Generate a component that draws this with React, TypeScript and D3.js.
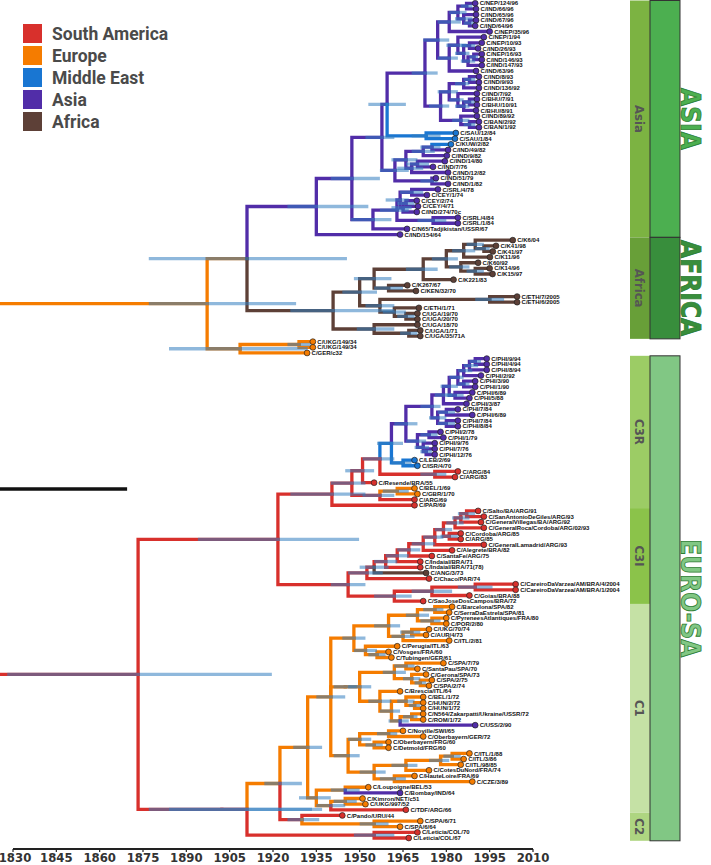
import React from 'react';
import * as d3 from 'd3';

// ---------------- data ----------------
const regionNames = ['South America', 'Europe', 'Middle East', 'Asia', 'Africa'];
const regionCodes = ['S', 'E', 'M', 'A', 'F'];
const regionColors = ['#d8302c', '#f57c00', '#1976d2', '#512da8', '#5d4037'];

const axisTicks = [1830, 1845, 1860, 1875, 1890, 1905, 1920, 1935, 1950, 1965, 1980, 1995, 2010];

// Newick-like clades: 'name'@year#region ; internal (...)@year#region~hpdLow~hpdHigh
const asiaClade = `(
 (
  (
   (
    (
     (
      ((('C/NEP/124/96'@1990#A,'C/IND/66/96'@1990.3#A)@1987#A~1985~1989,('C/IND/65/96'@1990.3#A,('C/IND/67/96'@1990.3#A,'C/IND/64/96'@1990#A)@1988#A~1986~1990)@1986#A~1983~1989)@1984#A~1981~1987,'C/NEP/35/96'@1995#A)@1981#A~1977~1985,
      (('C/NEP/1/94'@1993#A,(('C/NEP/10/93'@1992.3#A,'C/IND/26/93'@1991#A)@1988#A~1985~1990,(('C/NEP/16/93'@1992.3#A,'C/IND/146/93'@1992.3#A)@1989.5#A~1988~1991,'C/IND/147/93'@1992.3#A)@1987.5#A~1985~1990)@1986#A~1983~1988)@1984#A~1980~1987,'C/IND/63/96'@1990.3#A)@1981#A~1977~1984
     )@1977#A~1972~1981,
     (((('C/IND/8/93'@1991.3#A,'C/IND/9/93'@1991.3#A)@1988#A~1986~1990,'C/IND/136/92'@1991.3#A)@1986#A~1983~1988,('C/IND/7/92'@1990.6#A,(('C/BHU/7/91'@1990.6#A,'C/BHU/10/91'@1990.6#A)@1988#A~1986~1990,'C/BHU/8/91'@1990.3#A)@1986#A~1983~1988)@1984#A~1981~1986)@1981#A~1977~1984,('C/IND/89/92'@1990.6#A,('C/BAN/2/92'@1991.3#A,'C/BAN/1/92'@1991.3#A)@1988#A~1986~1990)@1985#A~1982~1988)@1978#A~1974~1981
    )@1972.6#A~1968~1977,
    ('C/SAU/12/84'@1983.3#M,'C/SAU/1/84'@1983#M)@1973#M~1968~1978
   )@1959.5#A~1953~1966,
   (((('C/KUW/2/82'@1981.6#M,'C/IND/49/82'@1980.6#A)@1975#A~1971~1978,'C/IND/9/82'@1980.2#A)@1972#A~1968~1976,(('C/IND/14/80'@1979.5#A,'C/IND/7/76'@1975.4#A)@1970#A~1966~1974,'C/IND/12/82'@1980.6#A)@1968#A~1963~1972)@1966#A~1961~1970,('C/IND/51/79'@1976.4#A,'C/IND/1/82'@1980.6#A)@1975#A~1971~1977)@1962.2#A~1957~1967
  )@1957.7#A~1952~1962,
  (((('C/SRL/4/78'@1977.1#A,'C/CEY/1/74'@1973.3#A)@1968#A~1964~1972,(('C/CEY/2/74'@1969.8#A,'C/CEY/4/71'@1970.2#A)@1966#A~1963~1969,'C/IND/274/70c'@1969.8#A)@1965#A~1961~1968)@1964#A~1959~1967,('C/SRL/4/84'@1984#A,'C/SRL/1/84'@1984#A)@1975.4#A~1970~1980)@1962.9#A~1957~1967,'C/N65/Tadjikistan/USSR/67'@1966.4#A)@1954.6#A~1947~1961
 )@1947.3#A~1940~1957,
 'C/IND/154/64'@1964#A
)@1935#A~1925~1953`;

const africaClade = `(
 (
  ((((('C/K6/04'@2003#F,('C/K41/98'@1997.2#F,'C/K41/97'@1996.1#F)@1993#F~1990~1995)@1990#F~1987~1993,'C/K11/96'@1995.1#F)@1986#F~1982~1990,('C/K60/92'@1991#F,('C/K14/96'@1995#F,'C/K15/97'@1996#F)@1990#F~1987~1993)@1985#F~1981~1988)@1980#F~1975~1984,'C/K221/83'@1982.5#F)@1972#F~1966~1977,('C/K267/67'@1966.5#F,'C/KEN/32/70'@1969.5#F)@1960#F~1955~1965)@1955#F~1948~1961,
  (('C/ETH/7/2005'@2004.5#F,'C/ETH/6/2005'@2004.5#F)@1995#F~1990~2000,('C/ETH/1/71'@1970.5#F,('C/UGA/19/70'@1970#F,'C/UGA/20/70'@1970#F)@1966#F~1963~1969)@1962#F~1958~1966)@1957#F~1952~1962
 )@1950#F~1944~1956,
 ('C/UGA/18/70'@1970#F,('C/UGA/1/71'@1971#F,'C/UGA/35/71A'@1971#F)@1967#F~1964~1970)@1955#F~1949~1962
)@1940.8#F~1926~1962`;

const ukGerClade = `((('C/UKG/149/34'@1933.8#E,'C/UKG/149/34'@1933.8#E)@1929#E~1925~1933,'C/GER/c32'@1931.8#E)@1908.6#E~1884~1932)`;

const c3rClade = `(
 (
  (
   (
    ((((((((('C/PHI/9/94'@1994#A,'C/PHI/4/94'@1994#A)@1990#A~1988~1992,'C/PHI/8/94'@1994#A)@1988#A~1986~1991,'C/PHI/2/92'@1992#A)@1986#A~1984~1989,('C/PHI/3/90'@1990#A,'C/PHI/1/90'@1990#A)@1986#A~1984~1988)@1984#A~1981~1986,('C/PHI/6/89'@1989#A,'C/PHI/5/88'@1988#A)@1983#A~1980~1986)@1981#A~1978~1984,'C/PHI/3/87'@1987#A)@1979#A~1976~1982,(('C/PHI/7/84'@1984#A,'C/PHI/6/89'@1989#A)@1980#A~1977~1983,('C/PHI/7/84'@1984#A,'C/PHI/8/84'@1984#A)@1980#A~1977~1983)@1977#A~1974~1980)@1975#A~1971~1978,
     (('C/PHI/2/78'@1978#A,'C/PHI/1/79'@1979#A)@1974#A~1971~1977,('C/PHI/9/76'@1976#A,('C/PHI/7/76'@1976#A,'C/PHI/12/76'@1976#A)@1973#A~1971~1975)@1972#A~1969~1974)@1970#A~1966~1973)@1966#A~1962~1970,
    ('C/LEB/2/69'@1969#M,'C/ISR/4/70'@1970#M)@1965#M~1961~1968
   )@1961#M~1956~1965,
   ('C/ARG/84'@1984#S,'C/ARG/83'@1983#S)@1976#S~1971~1980
  )@1957#S~1951~1962,
  'C/Resende/BRA/55'@1955#S
 )@1951#S~1945~1955,
 (('C/BEL/1/69'@1969#E,'C/GBR/1/70'@1970#E)@1963#E~1958~1967,'C/ARG/69'@1969#S)@1957#S~1951~1962
)@1947.3#S~1940~1952`;

const c3iClade = `(
 (
  (((((((((('C/Salto/BA/ARG/91'@1991#S,'C/SanAntonioDeGiles/ARG/93'@1993#S)@1987#S~1984~1990,'C/GeneralVillegas/BA/ARG/92'@1992#S)@1985#S~1982~1988,'C/GeneralRoca/Cordoba/ARG/02/93'@1993#S)@1983#S~1980~1986,('C/Cordoba/ARG/85'@1985#S,'C/ARG/85'@1985#S)@1981#S~1978~1984)@1979#S~1976~1982,'C/GeneralLamadrid/ARG/93'@1993#S)@1976#S~1972~1979,'C/Alegrete/BRA/82'@1982#S)@1972#S~1968~1976,'C/SantaFe/ARG/75'@1975#S)@1967#S~1963~1971,'C/Indaial/BRA/71'@1971#S)@1963#S~1959~1967,'C/Indaial/BRA/71(78)'@1971#S)@1959#S~1955~1963,'C/ANG/3/73'@1973#F)@1955#S~1950~1960,
  'C/Chaco/PAR/74'@1974#S
 )@1952.5#S~1946~1958,
 (((('C/CareiroDaVarzea/AM/BRA/4/2004'@2004#S,'C/CareiroDaVarzea/AM/BRA/1/2004'@2004#S)@1990#S~1984~1996,'C/Goias/BRA/88'@1988#S)@1975#S~1968~1982,'C/SaoJoseDosCampos/BRA/72'@1972#S)@1962#S~1955~1968)
)@1946#S~1940~1952`;

const c1Clade = `(
 (
  (
   (
    ((((('C/Barcelona/SPA/82'@1982#E,'C/SerraDaEstrela/SPA/81'@1981#E)@1976#E~1972~1979,('C/PyreneesAtlantiques/FRA/80'@1980#E,'C/POR/2/80'@1980#E)@1975#E~1971~1978)@1970#E~1966~1974,(('C/UKG/70/74'@1974#E,'C/AUR/4/73'@1973#E)@1968#E~1964~1971,'C/ITL/2/81'@1981#E)@1965#E~1961~1969)@1960#E~1955~1964,
     ('C/Perugia/ITL/63'@1963#E,('C/Vosges/FRA/60'@1960#E,'C/Tubingen/GER/61'@1961#E)@1956#E~1953~1959)@1952#E~1948~1956)@1948#E~1944~1952,
    (((('C/SPA/7/79'@1979#E,'C/SantaPau/SPA/70'@1970#E)@1966#E~1962~1969,('C/Gerona/SPA/73'@1973#E,('C/SPA/2/75'@1975#E,'C/SPA/2/74'@1974#E)@1971#E~1969~1973)@1968#E~1965~1971)@1962#E~1958~1966,
     ('C/Brescia/ITL/64'@1964#E,(('C/BEL/1/72'@1972#E,('C/HUN/2/72'@1972#E,'C/HUN/1/72'@1972#E)@1969#E~1967~1971)@1966#E~1963~1969,(('C/N564/Zakarpatti/Ukraine/USSR/72'@1972#E,'C/ROM/1/72'@1972#E)@1968#E~1965~1970,'C/USS/2/90'@1990#A)@1964#E~1960~1967)@1961#E~1957~1964)@1957#E~1953~1961)@1950#E~1946~1954
   )@1945#E~1941~1949,
   ((('C/Noville/SWI/65'@1965#E,'C/Oberbayern/GER/72'@1972#E)@1960#E~1956~1963,('C/Oberbayern/FRG/60'@1960#E,'C/Detmold/FRG/60'@1960#E)@1955#E~1952~1958)@1950#E~1946~1954,
    (((('C/ITL/1/88'@1988#E,'C/ITL/3/86'@1986#E)@1982#E~1979~1985,'C/ITL/98/85'@1985#E)@1978#E~1974~1981,'C/CotesDuNord/FRA/74'@1974#E)@1966#E~1961~1970,('C/HauteLoire/FRA/69'@1969#E,'C/CZE/3/89'@1989#E)@1962#E~1957~1966)@1955#E~1950~1959)@1946#E~1941~1950
  )@1940#E~1935~1945,
  (('C/Loupoigne/BEL/53'@1953#E,'C/Bombay/IND/64'@1964#A)@1945#E~1940~1950,(('C/Kimron/NET/c51'@1951#E,'C/UKG/997/52'@1952#E)@1945#E~1941~1949,'C/TDF/ARG/66'@1966#S)@1940#E~1935~1945)@1935#E~1929~1940
 )@1932#E~1927~1937,
 ('C/Pando/URU/44'@1944#S,('C/SPA/6/71'@1971#E,'C/SPA/6/64'@1964#E)@1955#E~1950~1960)@1930#S~1925~1936
)@1922.4#E~1917~1930`;

const leticiaClade = `('C/Leticia/COL/70'@1970#S,'C/Leticia/COL/67'@1967#S)@1955#S~1948~1962`;

const subNames = ['Asia', 'Africa', 'C3R', 'C3I', 'C1', 'C2'];
const subFirstTip = [0, 42, 63, 90, 107, 144];
const subLastTip = [41, 59, 89, 106, 143, 148];
const subColors = ['#7cb342', '#689f38', '#9ccc65', '#8bc34a', '#c5e1a5', '#aed581'];
const bigNames = ['ASIA', 'AFRICA', 'EURO-SA'];
const bigFirstTip = [0, 42, 63];
const bigLastTip = [41, 59, 148];
const bigColors = ['#4caf50', '#388e3c', '#81c784'];

const euroSa = `((((${c3rClade},'C/PAR/69'@1969#S)@1940.4#S~1926~1952,${c3iClade})@1921.7#S~1894~1949.8,(${c1Clade},${leticiaClade})@1911#S~1884~1937)@1902.3#S~1877~1933.5)`;
const treeString = `(((${asiaClade},${africaClade})@1911#E~1877~1945.6,${ukGerClade})@1897.2#E~1877~1928,${euroSa})@1873.3#S~1828~1919.6`;

// ---------------- parser ----------------
type TNode = { name?: string; year: number; region: string; lo?: number; hi?: number; children: TNode[]; x?: number; y?: number; idx?: number };

function parseTree(src: string): TNode {
  const s = src.replace(/\s+/g, '');
  let i = 0;
  const num = () => {
    const j = i;
    while (i < s.length && /[-0-9.]/.test(s[i])) i++;
    return parseFloat(s.slice(j, i));
  };
  const annot = (n: TNode) => {
    if (s[i] === '@') { i++; n.year = num(); }
    if (s[i] === '#') { i++; n.region = s[i]; i++; }
    if (s[i] === '~') { i++; n.lo = num(); if (s[i] === '~') { i++; n.hi = num(); } }
  };
  const node = (): TNode => {
    const n: TNode = { year: 0, region: 'S', children: [] };
    if (s[i] === '(') {
      i++;
      n.children.push(node());
      while (s[i] === ',') { i++; n.children.push(node()); }
      i++;
      annot(n);
      if (n.children.length === 1 && n.year === 0) return n.children[0];
    } else if (s[i] === "'") {
      i++;
      const j = i;
      while (s[i] !== "'") i++;
      n.name = s.slice(j, i);
      i++;
      annot(n);
    }
    return n;
  };
  return node();
}

const W = 711, H = 865;
const xScale = d3.scaleLinear().domain([1830, 2010]).range([13, 533]);
const colorOf = (r: string) => regionColors[regionCodes.indexOf(r)];

export default function App() {
  const root = parseTree(treeString);
  const tips: TNode[] = [];
  const walk = (n: TNode) => { if (!n.children.length) tips.push(n); n.children.forEach(walk); };
  walk(root);
  const yScale = d3.scaleLinear().domain([0, 148]).range([3.3, 838]);
  tips.forEach((t, k) => { t.idx = k; t.y = yScale(k); });
  const layout = (n: TNode) => {
    n.x = xScale(n.year);
    if (n.children.length) {
      n.children.forEach(layout);
      n.y = (n.children[0].y! + n.children[n.children.length - 1].y!) / 2;
    }
  };
  layout(root);

  const branches: JSX.Element[] = [];
  const bars: JSX.Element[] = [];
  const internals: TNode[] = [];
  const collect = (n: TNode) => {
    if (n.children.length) {
      internals.push(n);
      n.children.forEach(c => {
        branches.push(
          <path key={`b${branches.length}`} d={`M${n.x},${n.y}V${c.y}H${c.x}`} fill="none" stroke={colorOf(c.region)} strokeWidth={3.3} strokeLinejoin="miter" strokeLinecap="square" />
        );
        collect(c);
      });
    }
  };
  collect(root);
  internals.forEach((n, k) => {
    const lo = n.lo ?? n.year - 3, hi = n.hi ?? n.year + 3;
    bars.push(<line key={`h${k}`} x1={xScale(lo)} x2={xScale(hi)} y1={n.y} y2={n.y} stroke="rgb(51,126,191)" strokeOpacity={0.55} strokeWidth={3.3} />);
  });

  const tipBand = (a: number, b: number) => [yScale(a) - 2.8, yScale(b) + 2.8];
  const smallX = 630, smallW = 20, bigX = 650, bigW = 30, bigTextX = 690;

  return (
    <svg width={W} height={H} style={{ position: 'absolute', left: 0, top: 0, background: '#fff' }} fontFamily="'Liberation Sans', Arial, sans-serif">
      <line x1={xScale(1869.5)} x2={root.x} y1={root.y} y2={root.y} stroke="#111" strokeWidth={3.3} />
      <g>{branches}</g>
      <g>{bars}</g>
      <circle cx={root.x} cy={root.y} r={2.6} fill={colorOf('S')} stroke="#333" strokeWidth={0.6} />
      <g>
        {tips.map((t, k) => (
          <g key={`t${k}`}>
            <circle cx={t.x} cy={t.y} r={2.9} fill={colorOf(t.region)} stroke="#222" strokeWidth={0.7} />
            <text x={t.x! + 4.5} y={t.y! + 2.1} fontSize={6} fontWeight="bold" fill="#111">{t.name}</text>
          </g>
        ))}
      </g>
      <line x1={xScale(1830)} x2={xScale(2010)} y1={849} y2={849} stroke="#222" strokeWidth={2} />
      {axisTicks.map(t => (
        <g key={`a${t}`}>
          <line x1={xScale(t)} x2={xScale(t)} y1={849} y2={852} stroke="#222" strokeWidth={1.2} />
          <text x={Math.max(xScale(t), 15)} y={862} textAnchor="middle" fontSize={13} fontWeight="bold" fill="#333" fontFamily="'DejaVu Sans Condensed', 'DejaVu Sans', sans-serif">{t}</text>
        </g>
      ))}
      {regionNames.map((r, k) => (
        <g key={`l${k}`} transform={`translate(23,${24 + k * 22})`}>
          <rect width={19} height={19} fill={regionColors[k]} />
          <text x={29} y={15.5} fontSize={17.5} fontWeight="bold" fill="#4a4a4a" fontFamily="Roboto, sans-serif">{r}</text>
        </g>
      ))}
      {subNames.map((s, k) => {
        const [y0, y1] = tipBand(subFirstTip[k], subLastTip[k]);
        return (
          <g key={`s${k}`}>
            <rect x={smallX} y={y0} width={smallW} height={y1 - y0} fill={subColors[k]} />
            <text transform={`translate(${smallX + smallW / 2},${(y0 + y1) / 2}) rotate(90)`} textAnchor="middle" dy="0.36em" fontSize={13} fontWeight="bold" fill="#555" fontFamily="'DejaVu Sans Condensed', sans-serif">{s}</text>
          </g>
        );
      })}
      {bigNames.map((s, k) => {
        const [y0, y1] = tipBand(bigFirstTip[k], bigLastTip[k]);
        return (
          <g key={`g${k}`}>
            <rect x={bigX} y={y0} width={bigW} height={y1 - y0} fill={bigColors[k]} stroke="#333" strokeWidth={1} />
            <text transform={`translate(${bigTextX},${(y0 + y1) / 2}) rotate(90)`} textAnchor="middle" dy="0.36em" fontSize={26} fontWeight="bold" fill={bigColors[k]} stroke="#2e7d32" strokeWidth={0.8} fontFamily="'DejaVu Sans Condensed', sans-serif">{s}</text>
          </g>
        );
      })}
    </svg>
  );
}
